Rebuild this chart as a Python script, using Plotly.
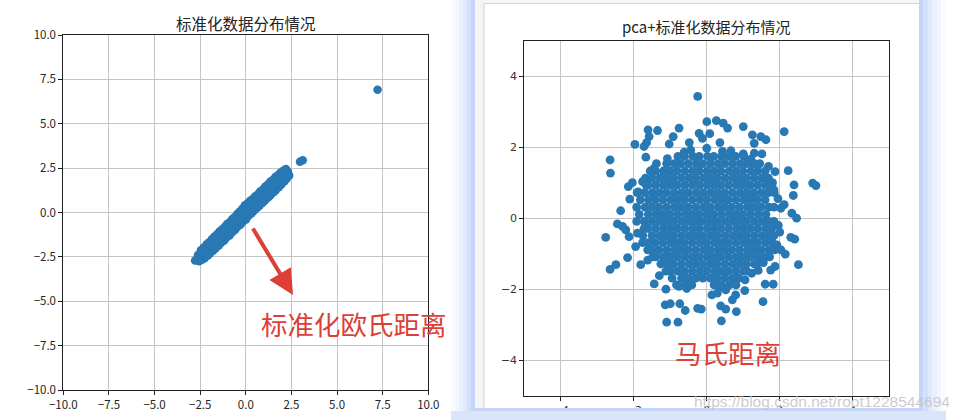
import plotly.graph_objects as go

# ---------------- data: left panel (standardised data) ----------------
left_upper = [(-2.62, -2.4), (-2.46, -2.13), (-2.31, -1.97), (-2.14, -1.79), (-2.01, -1.67),
              (-1.86, -1.5), (-1.73, -1.36), (-1.57, -1.23), (-1.44, -1.07), (-1.31, -0.96),
              (-1.15, -0.8), (-1.03, -0.65), (-0.88, -0.53), (-0.74, -0.36), (-0.61, -0.25),
              (-0.46, -0.07), (-0.33, 0.05), (-0.18, 0.23), (-0.05, 0.41), (0.11, 0.52),
              (0.23, 0.66), (0.39, 0.77), (0.52, 0.91), (0.67, 1.04), (0.79, 1.19),
              (0.95, 1.31), (1.07, 1.47), (1.23, 1.59), (1.35, 1.75), (1.51, 1.86),
              (1.63, 2.01), (1.79, 2.13), (1.91, 2.26), (2.07, 2.36), (2.2, 2.45)]
left_lower = [(-2.78, -2.7), (-2.56, -2.75), (-2.4, -2.66), (-2.26, -2.58), (-2.09, -2.43),
              (-1.96, -2.31), (-1.79, -2.15), (-1.66, -2.03), (-1.49, -1.87), (-1.36, -1.72),
              (-1.19, -1.59), (-1.06, -1.42), (-0.89, -1.29), (-0.76, -1.12), (-0.59, -0.99),
              (-0.46, -0.82), (-0.29, -0.69), (-0.16, -0.52), (0.01, -0.39), (0.14, -0.19),
              (0.31, -0.05), (0.44, 0.08), (0.61, 0.25), (0.74, 0.37), (0.91, 0.53),
              (1.04, 0.66), (1.21, 0.83), (1.34, 0.96), (1.51, 1.13), (1.64, 1.26),
              (1.81, 1.43), (1.94, 1.56), (2.11, 1.75), (2.24, 1.9), (2.38, 2.08)]
left_middle = [(-2.5, -2.45), (-2.21, -2.19), (-1.89, -1.93), (-1.61, -1.59), (-1.29, -1.31),
               (-1.01, -1.02), (-0.69, -0.73), (-0.41, -0.41), (-0.09, -0.11), (0.19, 0.21),
               (0.51, 0.47), (0.79, 0.81), (1.11, 1.09), (1.39, 1.39), (1.71, 1.69), (1.99, 2.01),
               (2.31, 2.29), (2.97, 2.86), (3.12, 2.95), (7.22, 6.92)]

# ---------------- data: right panel (PCA + standardised) ----------------
pca_outer = [(-0.25, 3.43), (0.0, 2.72), (0.26, 2.75), (0.45, 2.68), (0.57, 2.54), (1.0, 2.58),
             (2.12, 2.44), (1.25, 2.35), (1.48, 2.3), (1.62, 2.21), (1.3, 2.11), (0.08, 2.38),
             (-0.21, 2.39), (-0.12, 2.25), (0.36, 2.13), (-0.48, 2.13), (-0.76, 2.54), (-0.92, 2.3),
             (-1.03, 2.09), (-1.61, 2.49), (-1.35, 2.47), (-1.58, 2.3), (-1.65, 2.13), (-1.97, 2.08),
             (-1.72, 2.02), (-1.67, 1.72), (-2.65, 1.64), (-2.64, 1.27), (-1.76, 1.03), (-2.04, 1.0),
             (-2.15, 0.89), (-2.11, 0.54), (-2.36, 0.21), (-2.45, -0.16), (-2.31, -0.23), (-2.22, -0.33),
             (-2.13, -0.52), (-2.77, -0.54), (-2.17, -1.11), (-2.49, -1.31), (-2.65, -1.44), (-1.95, -0.8),
             (-1.81, -1.31), (-1.44, -1.85), (-1.12, -2.0), (-0.76, -1.92), (-1.14, -2.44), (-1.0, -2.41),
             (-0.74, -2.41), (-0.59, -2.6), (-1.1, -2.93), (-0.79, -2.93), (-0.25, -2.54), (-0.15, -2.56),
             (0.4, -2.89), (0.38, -2.47), (0.52, -2.56), (0.81, -2.63), (0.7, -2.3), (0.79, -2.16),
             (0.14, -2.16), (0.29, -2.11), (0.52, -2.02), (1.04, -2.04), (1.54, -2.35), (1.6, -1.86),
             (1.82, -1.86), (1.23, -1.55), (1.41, -1.47), (1.75, -1.46), (1.87, -1.36), (2.51, -1.31),
             (2.15, -1.01), (2.03, -0.89), (2.0, -0.39), (2.3, -0.54), (2.41, -0.59), (2.46, 0.0),
             (2.33, 0.14), (2.03, 0.28), (2.12, 0.38), (2.37, 0.64), (2.39, 0.94), (2.9, 0.99),
             (2.99, 0.92), (2.23, 1.34), (1.84, 0.8), (1.8, 1.0), (1.87, 1.31), (1.69, 1.46),
             (1.51, 1.81), (1.3, 1.83), (1.0, 1.81), (1.16, 1.55), (0.43, 1.88), (0.0, 1.97),
             (-0.44, 1.92), (-1.08, 1.68), (1.21, 1.66), (-0.62, 1.86), (0.66, 1.9), (-1.45, 1.4),
             (-1.88, 0.74), (1.95, 0.55), (1.96, -0.2), (-1.9, -0.42), (1.92, -0.75), (-1.62, -1.18),
             (1.55, -1.25), (-1.3, -1.62), (1.05, -1.74), (-0.55, -1.98), (0.35, -1.95)]

pca_core_y = [1.74, 1.54, 1.33, 1.13, 0.93, 0.72, 0.52, 0.31, 0.11, -0.09,
              -0.29, -0.49, -0.69, -0.89, -1.09, -1.29, -1.49, -1.69, -1.88]
pca_core_x = [
    [-0.79, -0.61, -0.38, -0.21, 0.02, 0.19, 0.41, 0.6, 0.79, 1.02],
    [-1.38, -1.1, -0.89, -0.71, -0.5, -0.29, -0.11, 0.1, 0.31, 0.49, 0.7, 0.91, 1.09, 1.3, 1.45],
    [-1.55, -1.4, -1.19, -1.0, -0.81, -0.6, -0.39, -0.2, 0.01, 0.2, 0.39, 0.61, 0.8, 0.99, 1.21, 1.4, 1.6],
    [-1.68, -1.5, -1.29, -1.1, -0.91, -0.7, -0.49, -0.3, -0.09, 0.1, 0.29, 0.5, 0.71, 0.9, 1.09, 1.3, 1.51, 1.69],
    [-1.66, -1.61, -1.4, -1.19, -1.0, -0.81, -0.6, -0.39, -0.2, 0.01, 0.2, 0.39, 0.6, 0.81, 1.0, 1.19, 1.4, 1.61, 1.78],
    [-1.91, -1.7, -1.49, -1.3, -1.11, -0.9, -0.69, -0.5, -0.29, -0.1, 0.11, 0.3, 0.49, 0.7, 0.91, 1.1, 1.29, 1.5, 1.69, 1.85],
    [-1.82, -1.6, -1.41, -1.2, -0.99, -0.8, -0.61, -0.4, -0.19, 0.0, 0.21, 0.4, 0.59, 0.8, 1.01, 1.2, 1.39, 1.6],
    [-1.92, -1.69, -1.5, -1.31, -1.1, -0.89, -0.7, -0.51, -0.3, -0.09, 0.1, 0.31, 0.5, 0.69, 0.9, 1.11, 1.3, 1.49, 1.7, 1.84],
    [-1.85, -1.6, -1.39, -1.2, -1.01, -0.8, -0.59, -0.4, -0.21, 0.0, 0.19, 0.4, 0.61, 0.8, 0.99, 1.2, 1.41, 1.62],
    [-1.92, -1.71, -1.5, -1.29, -1.1, -0.91, -0.7, -0.49, -0.3, -0.11, 0.1, 0.29, 0.5, 0.71, 0.9, 1.09, 1.3, 1.51, 1.7, 1.84],
    [-1.72, -1.61, -1.4, -1.19, -1.0, -0.81, -0.6, -0.39, -0.2, 0.01, 0.2, 0.39, 0.6, 0.81, 1.0, 1.19, 1.4, 1.61, 1.78],
    [-1.75, -1.5, -1.29, -1.1, -0.91, -0.7, -0.49, -0.3, -0.11, 0.1, 0.29, 0.5, 0.71, 0.9, 1.09, 1.3, 1.51, 1.7, 1.84],
    [-1.76, -1.6, -1.41, -1.2, -0.99, -0.8, -0.61, -0.4, -0.19, 0.0, 0.21, 0.4, 0.59, 0.8, 1.01, 1.2, 1.39, 1.6, 1.8],
    [-1.62, -1.5, -1.31, -1.1, -0.89, -0.7, -0.51, -0.3, -0.09, 0.1, 0.31, 0.5, 0.69, 0.9, 1.11, 1.3, 1.49, 1.7, 1.86],
    [-1.48, -1.4, -1.19, -1.0, -0.81, -0.6, -0.39, -0.2, 0.01, 0.2, 0.39, 0.6, 0.81, 1.0, 1.19, 1.4, 1.6, 1.72],
    [-1.26, -1.1, -0.91, -0.7, -0.49, -0.3, -0.11, 0.1, 0.29, 0.5, 0.71, 0.9, 1.09, 1.3, 1.38],
    [-1.12, -1.0, -0.8, -0.61, -0.4, -0.19, 0.0, 0.21, 0.4, 0.59, 0.8, 1.01, 1.1],
    [-0.95, -0.69, -0.5, -0.3, -0.11, 0.1, 0.29, 0.5, 0.71, 0.88],
    [-0.83, -0.6, -0.41, 0.2, 0.4, 0.62, 0.8],
]

left_ticks = [-10.0, -7.5, -5.0, -2.5, 0.0, 2.5, 5.0, 7.5, 10.0]
right_ticks = [-4, -2, 0, 2, 4]
left_title = "标准化数据分布情况"
right_title = "pca+标准化数据分布情况"
left_note = "标准化欧氏距离"
right_note = "马氏距离"
watermark = "https://blog.csdn.net/root1228544694"

# ---------------- build ----------------
W, H = 963, 420
def px(x):
    return x / W
def py(y):
    return 1 - y / H

blue = "#2878b4"
red = "#dc3f37"

lx = [p[0] for p in left_upper + left_lower + left_middle]
ly = [p[1] for p in left_upper + left_lower + left_middle]
rx = [p[0] for p in pca_outer]
ry = [p[1] for p in pca_outer]
for yv, xs in zip(pca_core_y, pca_core_x):
    for xv in xs:
        rx.append(xv)
        ry.append(yv)

fig = go.Figure()
fig.add_trace(go.Scatter(x=lx, y=ly, mode="markers", xaxis="x", yaxis="y",
                         marker=dict(color=blue, size=8.5, line=dict(width=0)), hoverinfo="skip"))
fig.add_trace(go.Scatter(x=rx, y=ry, mode="markers", xaxis="x2", yaxis="y2",
                         marker=dict(color=blue, size=8.8, line=dict(width=0)), hoverinfo="skip"))

cjk = "Noto Sans CJK SC"
axis_common = dict(showgrid=True, gridcolor="#c4c4c4", gridwidth=1, zeroline=False,
                   showline=True, linecolor="#222", linewidth=1, mirror=True,
                   ticks="outside", ticklen=4, tickcolor="#222", tickwidth=1,
                   automargin=False)

fig.update_layout(
    template="none",
    width=W, height=H, margin=dict(l=0, r=0, t=0, b=0, pad=0, autoexpand=False),
    paper_bgcolor="white", plot_bgcolor="white", showlegend=False,
    xaxis=dict(domain=[px(63.3), px(428.3)], range=[-10, 10], tickvals=left_ticks,
               tickformat=".1f", tickfont=dict(family=cjk, size=11.5, color="#222"),
               anchor="y", **axis_common),
    yaxis=dict(domain=[py(390), py(35)], range=[-10, 10], tickvals=left_ticks,
               tickformat=".1f", tickfont=dict(family=cjk, size=11.5, color="#222"),
               anchor="x", **axis_common),
    xaxis2=dict(domain=[px(524.3), px(889.3)], range=[-5, 5], tickvals=right_ticks,
                tickfont=dict(family="DejaVu Sans", size=11, color="#333"),
                anchor="y2", **axis_common),
    yaxis2=dict(domain=[py(395.7), py(40.7)], range=[-5, 5], tickvals=right_ticks,
                tickfont=dict(family="DejaVu Sans", size=11, color="#333"),
                anchor="x2", **axis_common),
)

shapes = []
def rect(x0, y0, x1, y1, color, layer="below"):
    shapes.append(dict(type="rect", xref="paper", yref="paper",
                       x0=px(x0), x1=px(x1), y0=py(y1), y1=py(y0),
                       fillcolor=color, line=dict(width=0), layer=layer))

# left glow of the window
glow = ["#fafcff", "#f2f6fe", "#e9f0fd", "#dfe8fc", "#d3e0fb", "#c4d5f9"]
for i, c in enumerate(glow):
    rect(451 + 4 * i, 0, 455 + 4 * i, 420, c)
# right glow
for i, c in enumerate(reversed(glow)):
    rect(919 + 4.5 * i, 0, 923.5 + 4.5 * i, 420, c)
# window chrome
rect(475, 0, 484, 408, "#f4f4f4")
shapes.append(dict(type="line", xref="paper", yref="paper", x0=px(484), x1=px(484),
                   y0=py(408), y1=py(3), line=dict(color="#d2d2d2", width=1), layer="below"))
rect(484, 0, 919, 3, "#f6f6f6")
shapes.append(dict(type="line", xref="paper", yref="paper", x0=px(484), x1=px(919),
                   y0=py(3.5), y1=py(3.5), line=dict(color="#d2d2d2", width=1), layer="below"))
# bottom glow (covers the cut tick labels)
rect(470, 408, 919, 411, "#c6d6f9", layer="above")
rect(451, 411, 946, 420, "#dae5fc", layer="above")
fig.update_layout(shapes=shapes)

annotations = [
    dict(text=left_title, xref="paper", yref="paper", x=px(245.8), y=py(23),
         showarrow=False, font=dict(family=cjk, size=15.5, color="#222"), xanchor="center", yanchor="middle"),
    dict(text=right_title, xref="paper", yref="paper", x=px(706), y=py(27),
         showarrow=False, font=dict(family=cjk, size=15, color="#222"), xanchor="center", yanchor="middle"),
    dict(text=left_note, xref="x", yref="y", x=5.93, y=-6.23, showarrow=False,
         font=dict(family=cjk, size=26.5, color=red), xanchor="center", yanchor="middle"),
    dict(text=right_note, xref="x2", yref="y2", x=0.58, y=-3.79, showarrow=False,
         font=dict(family=cjk, size=26.5, color=red), xanchor="center", yanchor="middle"),
    dict(text="", xref="x", yref="y", x=2.59, y=-4.65, ax=0.34, ay=-0.82, axref="x", ayref="y",
         showarrow=True, arrowhead=2, arrowsize=1.25, arrowwidth=4, arrowcolor=red, standoff=0),
    dict(text=watermark, xref="paper", yref="paper", x=px(822), y=py(401), showarrow=False,
         font=dict(family="Liberation Sans", size=15.5, color="rgba(195,195,195,0.85)"),
         xanchor="center", yanchor="middle"),
]
fig.update_layout(annotations=annotations)

fig.write_html("out.html")
